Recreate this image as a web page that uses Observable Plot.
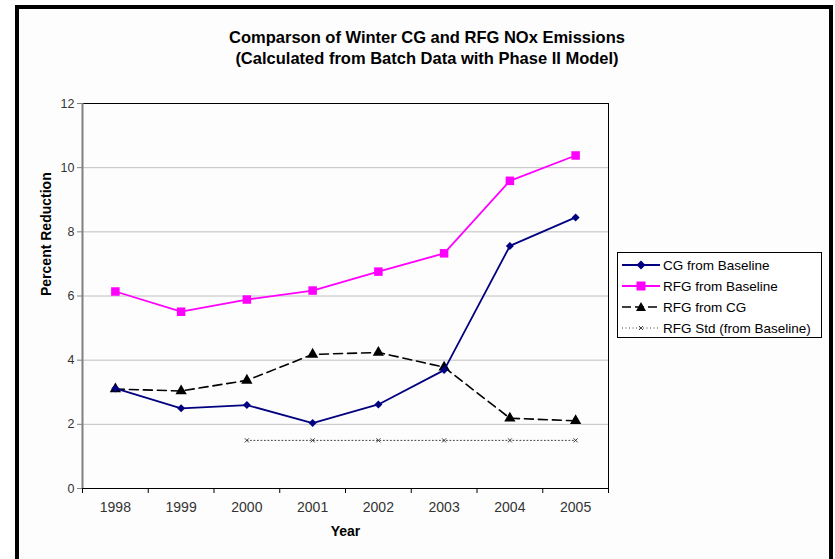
<!DOCTYPE html>
<html>
<head>
<meta charset="utf-8">
<script src="https://cdn.jsdelivr.net/npm/d3@7"></script>
<script src="https://cdn.jsdelivr.net/npm/@observablehq/plot@0.6"></script>
<style>
  html, body { margin: 0; padding: 0; background: #fff; }
  #wrap { position: relative; width: 835px; height: 559px; overflow: hidden; font-family: "Liberation Sans", Arial, sans-serif; }
  #frame { position: absolute; left: 15px; top: 5px; width: 810px; height: 600px; border: 4px solid #000; border-bottom: none; background: #fdfdfd; }
  #chart { position: absolute; left: 0; top: 0; }
  #title { position: absolute; left: 0; top: 27px; width: 854px; text-align: center; font-weight: bold; font-size: 16.5px; line-height: 21px; color: #000; }
  #legend { position: absolute; left: 617px; top: 252px; width: 203px; height: 84px; border: 1px solid #000; background: #fff; font-size: 13.5px; color: #000; }
  .row { position: absolute; left: 4px; height: 20px; display: flex; align-items: center; white-space: nowrap; }
  .row svg { margin-right: 3px; }
</style>
</head>
<body>
<div id="wrap">
  <div id="frame"></div>
  <div id="chart"></div>
  <div id="title">Comparson of Winter CG and RFG NOx Emissions<br>(Calculated from Batch Data with Phase II Model)</div>
  <div id="legend"></div>
</div>
<script>
const years = [1998, 1999, 2000, 2001, 2002, 2003, 2004, 2005];
const cgFromBaseline = [3.12, 2.50, 2.60, 2.04, 2.62, 3.69, 7.56, 8.45];
const rfgFromBaseline = [6.14, 5.51, 5.89, 6.17, 6.76, 7.33, 9.59, 10.38];
const rfgFromCG = [3.10, 3.04, 3.37, 4.18, 4.24, 3.78, 2.19, 2.11];
const stdYears = [2000, 2001, 2002, 2003, 2004, 2005];
const rfgStd = [1.5, 1.5, 1.5, 1.5, 1.5, 1.5];
const yTicks = [0, 2, 4, 6, 8, 10, 12];
const seriesNames = ["CG from Baseline", "RFG from Baseline", "RFG from CG", "RFG Std (from Baseline)"];

const cg = years.map((x, i) => ({x, y: cgFromBaseline[i]}));
const rfg = years.map((x, i) => ({x, y: rfgFromBaseline[i]}));
const rfgcg = years.map((x, i) => ({x, y: rfgFromCG[i]}));
const std = stdYears.map((x, i) => ({x, y: rfgStd[i]}));
const bounds = [...years.map(y => y - 0.5), years[years.length - 1] + 0.5];

const chart = Plot.plot({
  width: 835,
  height: 559,
  marginLeft: 82,
  marginRight: 227,
  marginTop: 103,
  marginBottom: 71,
  x: {domain: [bounds[0], bounds[bounds.length - 1]], axis: null},
  y: {domain: [yTicks[0], yTicks[yTicks.length - 1]], axis: null},
  style: {background: "transparent", fontFamily: "'Liberation Sans', Arial, sans-serif", overflow: "visible"},
  marks: [
    Plot.gridY(yTicks.slice(1, -1), {stroke: "#c0c0c0", strokeOpacity: 1}),
    Plot.ruleY([yTicks[yTicks.length - 1]], {stroke: "#000"}),
    Plot.ruleX([bounds[bounds.length - 1]], {stroke: "#000"}),
    Plot.ruleY([0], {stroke: "#000"}),
    Plot.ruleX([bounds[0]], {stroke: "#808080", strokeWidth: 2}),
    Plot.axisY({ticks: yTicks, tickSize: 5, tickPadding: 3, stroke: "#808080", fill: "#333", fontSize: 12.5, label: null}),
    Plot.axisX({ticks: bounds, tickSize: 5, tickFormat: () => "", stroke: "#000", label: null}),
    Plot.axisX({ticks: years, tickSize: 0, tickPadding: 14, tickFormat: d => String(d), fill: "#333", fontSize: 14, label: null}),
    Plot.text(["Percent Reduction"], {frameAnchor: "left", dx: -36, rotate: -90, fontWeight: "bold", fontSize: 14, fill: "#000"}),
    Plot.text(["Year"], {frameAnchor: "bottom", lineAnchor: "middle", dy: 43, fontWeight: "bold", fontSize: 14, fill: "#000"}),
    // RFG Std
    Plot.line(std, {x: "x", y: "y", stroke: "#404040", strokeWidth: 1, strokeDasharray: "1,2.5"}),
    Plot.dot(std, {x: "x", y: "y", symbol: "times", r: 2, stroke: "#404040", strokeWidth: 1}),
    // RFG from CG
    Plot.line(rfgcg, {x: "x", y: "y", stroke: "#000", strokeWidth: 1.6, strokeDasharray: "9,5"}),
    Plot.dot(rfgcg, {x: "x", y: "y", symbol: "triangle", r: 4.2, fill: "#000", stroke: "none"}),
    // CG from Baseline
    Plot.line(cg, {x: "x", y: "y", stroke: "#000080", strokeWidth: 1.8}),
    Plot.dot(cg, {x: "x", y: "y", symbol: "diamond2", r: 3.6, fill: "#000080", stroke: "none"}),
    // RFG from Baseline
    Plot.line(rfg, {x: "x", y: "y", stroke: "#ff00ff", strokeWidth: 1.8}),
    Plot.dot(rfg, {x: "x", y: "y", symbol: "square", r: 4.8, fill: "#ff00ff", stroke: "none"})
  ]
});
document.getElementById("chart").appendChild(chart);

// Legend
const legendSpecs = [
  {stroke: "#000080", dash: null, width: 1.8, marker: "diamond"},
  {stroke: "#ff00ff", dash: null, width: 1.8, marker: "square"},
  {stroke: "#000", dash: "9,4", width: 1.6, marker: "triangle"},
  {stroke: "#404040", dash: "1,2.5", width: 1, marker: "times"}
];
const legend = document.getElementById("legend");
seriesNames.forEach((name, i) => {
  const s = legendSpecs[i];
  const row = document.createElement("div");
  row.className = "row";
  row.style.top = (2 + i * 21) + "px";
  let m = "";
  if (s.marker === "diamond") m = '<path d="M19,1.5 L23.5,6 L19,10.5 L14.5,6 Z" fill="#000080"/>';
  if (s.marker === "square") m = '<rect x="14.5" y="1.5" width="9" height="9" fill="#ff00ff"/>';
  if (s.marker === "triangle") m = '<path d="M19,1 L24,10 L14,10 Z" fill="#000"/>';
  if (s.marker === "times") m = '<path d="M17,4 L21,8 M21,4 L17,8" stroke="#404040" stroke-width="1"/>';
  row.innerHTML = `<svg width="38" height="12"><line x1="0" x2="38" y1="6" y2="6" stroke="${s.stroke}" stroke-width="${s.width}" ${s.dash ? `stroke-dasharray="${s.dash}"` : ""}/>${m}</svg><span>${name}</span>`;
  legend.appendChild(row);
});
</script>
</body>
</html>
